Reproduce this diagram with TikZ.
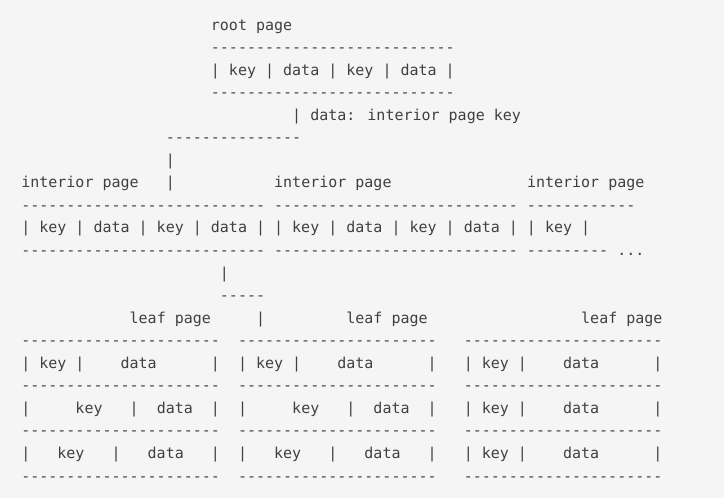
\documentclass[tikz,border=0pt]{standalone}
\usepackage{fontspec}
\newfontfamily\asciimono{DejaVu Sans Mono}
\definecolor{bgc}{HTML}{F5F5F5}
\definecolor{txtc}{HTML}{404040}
\newcommand\dsh[1]{\foreach\i in {1,...,#1}{-}}
\begin{document}
\begin{tikzpicture}[x=1pt,y=1pt,
  ln/.style={anchor=base west,inner sep=0pt,outer sep=0pt,text=txtc,
    font=\asciimono\fontsize{15}{18}\selectfont}]
\fill[bgc] (0,0) rectangle (724,-498);
\useasboundingbox (0,0) rectangle (724,-498);
\def\cw{9.03}
\def\lh{22.55}
\def\xo{21.3}
% root page
\node[ln] (l0) at ({\xo+\cw*21},{-30-\lh*0}) {root page};
\node[ln] (l1) at ({\xo+\cw*21},{-30-\lh*1}) {\dsh{27}};
\node[ln] (l2) at ({\xo+\cw*21},{-30-\lh*2}) {| key | data | key | data |};
\node[ln] (l3) at ({\xo+\cw*21},{-30-\lh*3}) {\dsh{27}};
\node[ln] (l4) at ({\xo+\cw*30},{-30-\lh*4}) {| data: interior page key};
\node[ln] (l5) at ({\xo+\cw*16},{-30-\lh*5}) {\dsh{15}};
\node[ln] (l6) at ({\xo+\cw*16},{-30-\lh*6}) {|};
% interior pages
\node[ln] (l7) at ({\xo},{-30-\lh*7}) {interior page~~~|~~~~~~~~~~~interior page~~~~~~~~~~~~~~~interior page};
\node[ln] (l8) at ({\xo},{-30-\lh*8}) {\dsh{27}~\dsh{27}~\dsh{12}};
\node[ln] (l9) at ({\xo},{-30-\lh*9}) {| key | data | key | data | | key | data | key | data | | key |};
\node[ln] (l10) at ({\xo},{-30-\lh*10}) {\dsh{27}~\dsh{27}~\dsh{9}~...};
\node[ln] (l11) at ({\xo+\cw*22},{-30-\lh*11}) {|};
\node[ln] (l12) at ({\xo+\cw*22},{-30-\lh*12}) {\dsh{5}};
% leaf pages
\node[ln] (l13) at ({\xo+\cw*12},{-30-\lh*13}) {leaf page~~~~~|~~~~~~~~~leaf page~~~~~~~~~~~~~~~~~leaf page};
\node[ln] (l14) at ({\xo},{-30-\lh*14}) {\dsh{22}~~\dsh{22}~~~\dsh{22}};
\node[ln] (l15) at ({\xo},{-30-\lh*15}) {| key |~~~~data~~~~~~|~~| key |~~~~data~~~~~~|~~~| key |~~~~data~~~~~~|};
\node[ln] (l16) at ({\xo},{-30-\lh*16}) {\dsh{22}~~\dsh{22}~~~\dsh{22}};
\node[ln] (l17) at ({\xo},{-30-\lh*17}) {|~~~~~key~~~|~~data~~|~~|~~~~~key~~~|~~data~~|~~~| key |~~~~data~~~~~~|};
\node[ln] (l18) at ({\xo},{-30-\lh*18}) {\dsh{22}~~\dsh{22}~~~\dsh{22}};
\node[ln] (l19) at ({\xo},{-30-\lh*19}) {|~~~key~~~|~~~data~~~|~~|~~~key~~~|~~~data~~~|~~~| key |~~~~data~~~~~~|};
\node[ln] (l20) at ({\xo},{-30-\lh*20}) {\dsh{22}~~\dsh{22}~~~\dsh{22}};
\end{tikzpicture}
\end{document}
